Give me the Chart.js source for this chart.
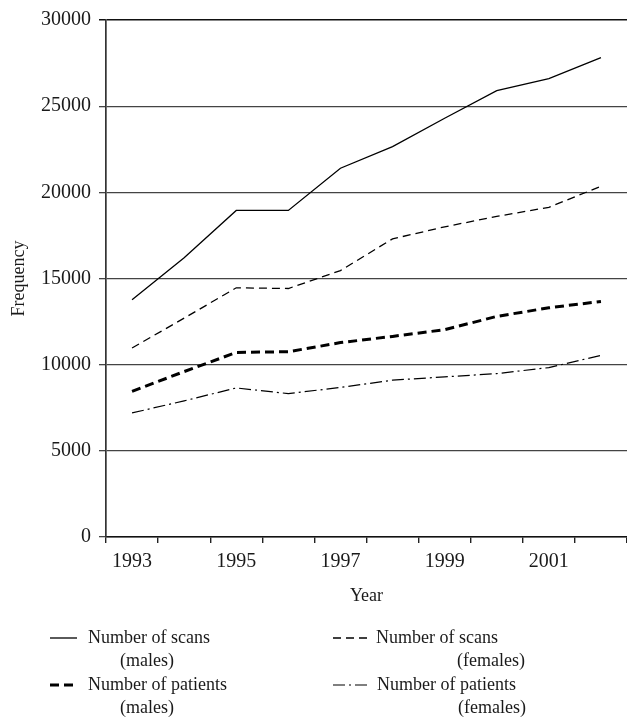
<!DOCTYPE html>
<html>
<head>
<meta charset="utf-8">
<script src="https://cdn.jsdelivr.net/npm/chart.js@4.4.1/dist/chart.umd.min.js"></script>
<style>
  html, body { margin: 0; padding: 0; background: #fff; }
  #wrap { position: relative; width: 627px; height: 721px; }
</style>
</head>
<body>
<div id="wrap"><canvas id="chart"></canvas></div>
<script>
  // yearly counts
  const years = ['1993', '1994', '1995', '1996', '1997', '1998', '1999', '2000', '2001', '2002'];
  const scansMales = [13770, 16200, 18950, 18950, 21400, 22650, 24300, 25900, 26600, 27820];
  const scansFemales = [10970, 12700, 14460, 14420, 15460, 17300, 18000, 18600, 19130, 20350];
  const patientsMales = [8450, 9600, 10710, 10750, 11280, 11640, 12030, 12800, 13300, 13670];
  const patientsFemales = [7200, 7900, 8650, 8320, 8680, 9100, 9290, 9480, 9830, 10540];

  const seriesNames = ['Number of scans', 'Number of scans', 'Number of patients', 'Number of patients'];
  const seriesGroups = ['(males)', '(females)', '(males)', '(females)'];

  const yTicks = [0, 5000, 10000, 15000, 20000, 25000, 30000];

  const SERIF = '"Liberation Serif", "DejaVu Serif", serif';
  const INK = '#1a1a1a';

  function lineSet(label, data, width, dash) {
    return {
      label: label,
      data: data,
      borderColor: '#000',
      borderWidth: width,
      borderDash: dash,
      pointRadius: 0,
      tension: 0,
      fill: false
    };
  }

  // legend in two columns under the axis, names wrapped onto two lines
  const legendSlots = [
    { x: 50, len: 27, textX: 88, y: 638, subX: 147 },
    { x: 333, len: 34, textX: 376, y: 638, subX: 491 },
    { x: 50, len: 28, textX: 88, y: 685, subX: 147 },
    { x: 333, len: 34, textX: 377, y: 685, subX: 492 }
  ];

  const bottomLegend = {
    id: 'bottomLegend',
    afterDraw(chart) {
      const ctx = chart.ctx;
      ctx.save();
      ctx.font = '18px ' + SERIF;
      ctx.fillStyle = INK;
      ctx.textBaseline = 'middle';
      chart.data.datasets.forEach((ds, i) => {
        const s = legendSlots[i];
        ctx.strokeStyle = '#000';
        ctx.lineWidth = ds.borderWidth;
        ctx.setLineDash(ds.borderDash || []);
        ctx.beginPath();
        ctx.moveTo(s.x, s.y);
        ctx.lineTo(s.x + s.len, s.y);
        ctx.stroke();
        ctx.setLineDash([]);
        ctx.textAlign = 'left';
        ctx.fillText(seriesNames[i], s.textX, s.y);
        ctx.textAlign = 'center';
        ctx.fillText(seriesGroups[i], s.subX, s.y + 23);
      });
      ctx.restore();
    }
  };

  new Chart(document.getElementById('chart'), {
    type: 'line',
    data: {
      labels: years,
      datasets: [
        lineSet(seriesNames[0] + ' ' + seriesGroups[0], scansMales, 1.3, []),
        lineSet(seriesNames[1] + ' ' + seriesGroups[1], scansFemales, 1.3, [8, 5]),
        lineSet(seriesNames[2] + ' ' + seriesGroups[2], patientsMales, 3, [9, 5]),
        lineSet(seriesNames[3] + ' ' + seriesGroups[3], patientsFemales, 1.2, [12, 4, 2, 4])
      ]
    },
    options: {
      responsive: true,
      maintainAspectRatio: false,
      animation: false,
      layout: { padding: { top: 19, right: 0, bottom: 110, left: 0 } },
      plugins: {
        legend: { display: false },
        tooltip: { enabled: false }
      },
      scales: {
        x: {
          type: 'category',
          offset: true,
          afterFit(scale) { scale.height = 74; },
          grid: {
            offset: true,
            drawOnChartArea: false,
            drawTicks: true,
            tickLength: 6,
            color: '#222',
            lineWidth: 1.4
          },
          border: { color: '#111', width: 1.6 },
          ticks: {
            autoSkip: false,
            maxRotation: 0,
            padding: 7,
            color: INK,
            font: { family: SERIF, size: 20 },
            callback(value, index) { return index % 2 === 0 ? years[index] : ''; }
          },
          title: {
            display: true,
            text: 'Year',
            color: INK,
            font: { family: SERIF, size: 18 },
            padding: { top: 0, bottom: 4 }
          }
        },
        y: {
          min: yTicks[0],
          max: yTicks[yTicks.length - 1],
          afterFit(scale) { scale.width = 106; },
          afterBuildTicks(scale) { scale.ticks = yTicks.map(v => ({ value: v })); },
          grid: {
            drawTicks: true,
            tickLength: 7,
            color: ctx => ctx.tick && ctx.tick.value === 30000 ? '#111' : '#444',
            lineWidth: ctx => ctx.tick && ctx.tick.value === 30000 ? 1.5 : 1.3
          },
          border: { color: '#333', width: 1.7 },
          ticks: {
            padding: 8,
            color: INK,
            font: { family: SERIF, size: 20 },
            callback(value) { return String(value); }
          },
          title: {
            display: true,
            text: 'Frequency',
            color: INK,
            font: { family: SERIF, size: 18 },
            padding: { top: 8, bottom: 0 }
          }
        }
      }
    },
    plugins: [bottomLegend]
  });
</script>
</body>
</html>
